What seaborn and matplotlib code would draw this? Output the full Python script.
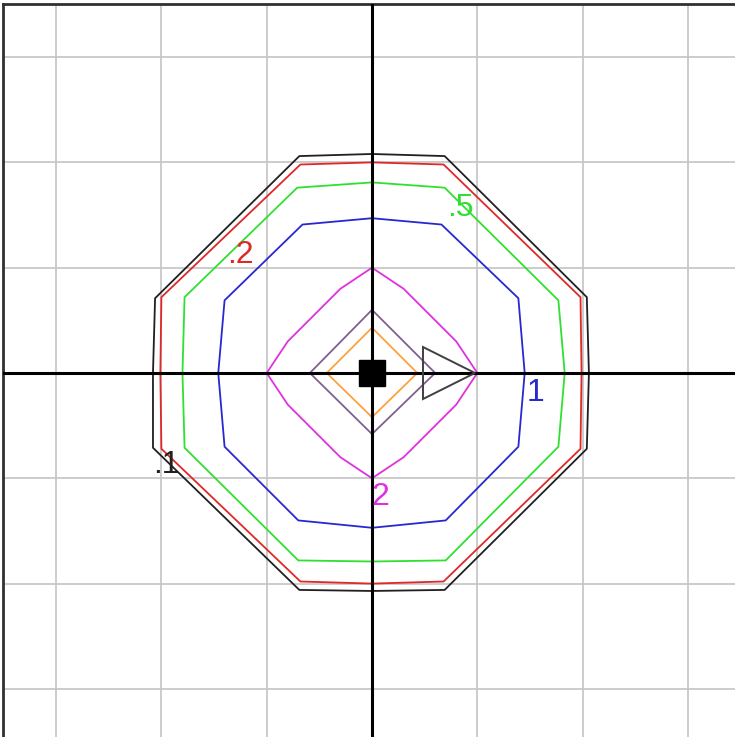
import matplotlib
matplotlib.use("Agg")
import matplotlib.pyplot as plt
import seaborn as sns
import pandas as pd

# ---- data (plot units, one grid cell = 1) ----
levels = [".1", ".2", ".5", "1", "2", "5", "10"]
level_colors = ["#202020", "#e02828", "#30e030", "#2828d0", "#e030e0", "#806090", "#ffa040"]

c01_x = [0, 0.69, 2.04, 2.06, 2.04, 0.69, 0, -0.69, -2.08, -2.08, -2.06, -0.69, 0]
c01_y = [2.08, 2.06, 0.72, 0, -0.72, -2.06, -2.07, -2.06, -0.71, 0, 0.71, 2.06, 2.08]

c02_x = [0, 0.68, 1.98, 1.99, 1.98, 0.68, 0, -0.68, -2.0, -2.01, -2.0, -0.68, 0]
c02_y = [2.0, 1.98, 0.72, 0, -0.72, -1.98, -2.0, -1.98, -0.72, 0, 0.72, 1.98, 2.0]

c05_x = [0, 0.69, 1.77, 1.83, 1.77, 0.70, 0, -0.70, -1.78, -1.80, -1.78, -0.71, 0]
c05_y = [1.81, 1.76, 0.69, 0, -0.70, -1.78, -1.79, -1.78, -0.71, 0, 0.72, 1.76, 1.81]

c1_x = [0, 0.66, 1.39, 1.45, 1.39, 0.70, 0, -0.70, -1.40, -1.46, -1.40, -0.66, 0]
c1_y = [1.47, 1.41, 0.71, 0, -0.70, -1.40, -1.47, -1.40, -0.70, 0, 0.69, 1.41, 1.47]

c2_x = [0, 0.30, 0.55, 0.80, 1.0, 0.80, 0.55, 0.30, 0, -0.30, -0.55, -0.80, -1.0, -0.80, -0.55, -0.30, 0]
c2_y = [1.0, 0.80, 0.55, 0.30, 0, -0.30, -0.55, -0.80, -1.0, -0.80, -0.55, -0.30, 0, 0.30, 0.55, 0.80, 1.0]

c5_x = [0, 0.60, 0, -0.59, 0]
c5_y = [0.60, 0, -0.58, 0, 0.60]

c10_x = [0, 0.43, 0, -0.43, 0]
c10_y = [0.43, 0, -0.42, 0, 0.43]

contour_x = [c01_x, c02_x, c05_x, c1_x, c2_x, c5_x, c10_x]
contour_y = [c01_y, c02_y, c05_y, c1_y, c2_y, c5_y, c10_y]

label_text = [".1", ".2", ".5", "1", "2"]
label_x = [-1.95, -1.25, 0.84, 1.55, 0.08]
label_y = [-0.87, 1.12, 1.57, -0.19, -1.18]

source_x = [0.0]
source_y = [0.0]
receptor_x = [0.73]
receptor_y = [0.0]

# ---- plot ----
sns.set_style("white")
plt.rcParams['font.family'] = ['Liberation Sans', 'DejaVu Sans']

fig = plt.figure(figsize=(7.35, 7.37), dpi=100)
u = 105.3
ax = fig.add_axes([(372 - 3.5 * u) / 735, (737 - 373 - 3.5 * u) / 737, 7 * u / 735, 7 * u / 737])
ax.set_xlim(-3.5, 3.5)
ax.set_ylim(-3.5, 3.5)
ax.set_xticks(range(-3, 4))
ax.set_yticks(range(-3, 4))
ax.set_xticklabels([])
ax.set_yticklabels([])
ax.tick_params(length=0)
ax.grid(True, color="#c8c8c8", lw=1.3, zorder=0)
ax.set_axisbelow(True)

for s in ["right", "bottom"]:
    ax.spines[s].set_visible(False)
for s in ["left", "top"]:
    ax.spines[s].set_color("#303030")
    ax.spines[s].set_linewidth(2)

ax.axhline(0, color="black", lw=2.2, zorder=3)
ax.axvline(0, color="black", lw=2.2, zorder=3)

for lev, col, xs, ys in zip(levels, level_colors, contour_x, contour_y):
    df = pd.DataFrame({"x": xs, "y": ys})
    sns.lineplot(data=df, x="x", y="y", sort=False, estimator=None, color=col,
                 lw=1.3, ax=ax, zorder=2)

for t, x, y, col in zip(label_text, label_x, label_y, level_colors):
    ax.text(x, y, t, color=col, fontsize=23, ha="center", va="center", zorder=5)

ax.plot(source_x, source_y, marker="s", ms=19, color="black", ls="none", zorder=6)
ax.plot(receptor_x, receptor_y, marker=">", ms=37, mfc="none", mec="#404040", mew=1.4,
        ls="none", zorder=6)

ax.set_xlabel("")
ax.set_ylabel("")
fig.savefig("out.png", dpi=100)
